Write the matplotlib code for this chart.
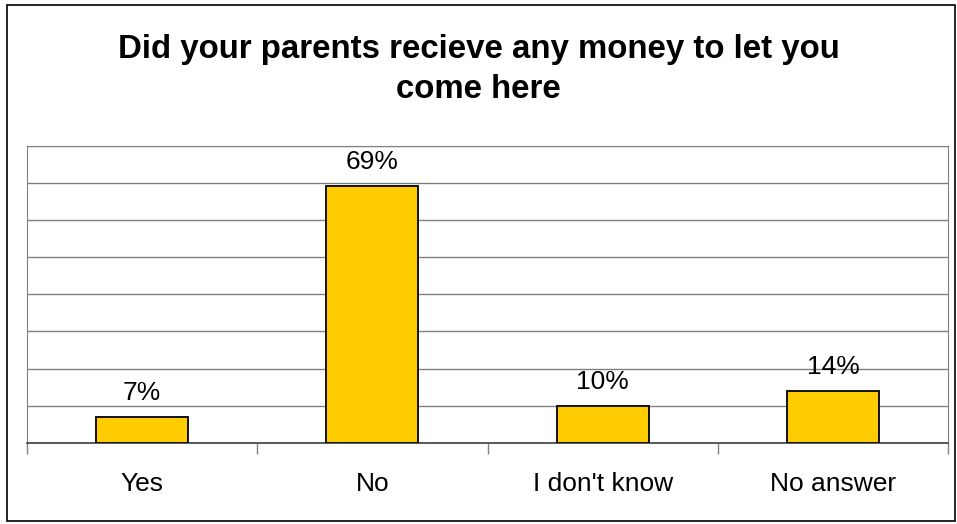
import matplotlib.pyplot as plt
from matplotlib.patches import Rectangle

# data
kategori = ['Yes', 'No', "I don't know", 'No answer']
persen = [7, 69, 10, 14]
judul = 'Did your parents recieve any money to let you\ncome here'

plt.rcParams['font.family'] = ['Liberation Sans', 'DejaVu Sans']

fig = plt.figure(figsize=(9.57, 5.24), dpi=100)
ax = fig.add_axes([27 / 957, 1 - 443 / 524, 921 / 957, 297.5 / 524])

# frame luar
fig.patches.append(Rectangle((6.5 / 957, 3.5 / 524), 948 / 957, 516 / 524,
                             transform=fig.transFigure, fill=False,
                             edgecolor='black', linewidth=1.2))

x = list(range(len(kategori)))
ax.bar(x, persen, width=0.4, color='#FFCC00', edgecolor='black', linewidth=1.3, zorder=3)

for xi, v in zip(x, persen):
    ax.text(xi, v + 3.3, f'{v}%', ha='center', va='bottom', fontsize=19)

ax.set_xlim(-0.5, len(kategori) - 0.5)
ax.set_ylim(0, 80)
ax.set_yticks(range(0, 81, 10))
ax.yaxis.grid(True, color='#808080', linewidth=1)
ax.set_axisbelow(True)
ax.tick_params(axis='y', left=False, labelleft=False)

# tick kategori di batas, label di tengah
ax.set_xticks([i - 0.5 for i in range(len(kategori) + 1)])
ax.set_xticklabels([])
ax.set_xticks(x, minor=True)
ax.set_xticklabels(kategori, minor=True, fontsize=19)
ax.tick_params(axis='x', which='major', direction='out', length=8, color='#808080', width=1)
ax.tick_params(axis='x', which='minor', length=0, pad=21)

for s in ['left', 'right', 'top']:
    ax.spines[s].set_color('#808080')
ax.spines['bottom'].set_color('#404040')
ax.spines['bottom'].set_linewidth(1.2)

fig.text(0.5, 1 - 69.5 / 524, judul, ha='center', va='center', fontsize=23.8,
         fontweight='bold', linespacing=1.37)

fig.savefig('out.png', dpi=100)
